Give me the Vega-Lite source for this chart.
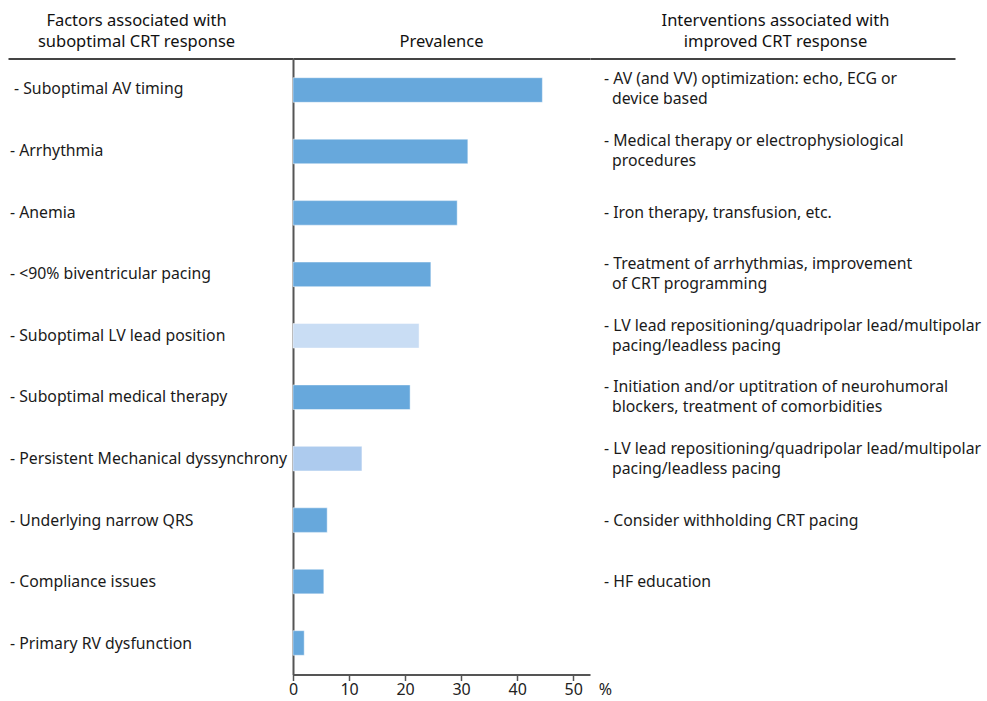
{
  "$schema": "https://vega.github.io/schema/vega-lite/v6.json",
  "background": "white",
  "padding": {"left": 8, "top": 12.5, "right": 5, "bottom": 0},
  "bounds": "flush",
  "spacing": 0,
  "config": {
    "font": "Noto Sans",
    "view": {"stroke": null},
    "title": {"fontSize": 16.5, "fontWeight": "normal", "color": "#111111", "baseline": "bottom", "offset": 8, "lineHeight": 21, "anchor": "middle", "frame": "group"},
    "text": {"color": "#1a1a1a"}
  },
  "data": {
    "values": [
      {"factor": "- Suboptimal AV timing", "prevalence": 44.5, "category": "standard", "intervention": "- AV (and VV) optimization: echo, ECG or", "continuation": "device based"},
      {"factor": "- Arrhythmia", "prevalence": 31.2, "category": "standard", "intervention": "- Medical therapy or electrophysiological", "continuation": "procedures"},
      {"factor": "- Anemia", "prevalence": 29.3, "category": "standard", "intervention": "- Iron therapy, transfusion, etc.", "continuation": ""},
      {"factor": "- <90% biventricular pacing", "prevalence": 24.6, "category": "standard", "intervention": "- Treatment of arrhythmias, improvement", "continuation": "of CRT programming"},
      {"factor": "- Suboptimal LV lead position", "prevalence": 22.5, "category": "lead", "intervention": "- LV lead repositioning/quadripolar lead/multipolar", "continuation": "pacing/leadless pacing"},
      {"factor": "- Suboptimal medical therapy", "prevalence": 20.9, "category": "standard", "intervention": "- Initiation and/or uptitration of neurohumoral", "continuation": "blockers, treatment of comorbidities"},
      {"factor": "- Persistent Mechanical dyssynchrony", "prevalence": 12.3, "category": "dyssynchrony", "intervention": "- LV lead repositioning/quadripolar lead/multipolar", "continuation": "pacing/leadless pacing"},
      {"factor": "- Underlying narrow QRS", "prevalence": 6.1, "category": "standard", "intervention": "- Consider withholding CRT pacing", "continuation": ""},
      {"factor": "- Compliance issues", "prevalence": 5.5, "category": "standard", "intervention": "- HF education", "continuation": ""},
      {"factor": "- Primary RV dysfunction", "prevalence": 2.0, "category": "standard", "intervention": "", "continuation": ""}
    ]
  },
  "hconcat": [
    {
      "width": 285,
      "height": 616,
      "title": {"text": ["Factors associated with", "suboptimal CRT response"], "dx": -14},
      "layer": [
        {
          "mark": {"type": "text", "align": "left", "baseline": "middle", "fontSize": 15.8, "dx": 2},
          "encoding": {
            "y": {"field": "factor", "type": "nominal", "sort": null, "axis": null,
                  "scale": {"paddingInner": 0.6, "paddingOuter": 0.313, "align": 0.5}},
            "x": {"datum": 0, "type": "quantitative", "scale": {"domain": [0, 1], "nice": false},
                  "axis": {"orient": "top", "labels": false, "ticks": false, "grid": false, "title": null, "domainColor": "#444444", "domainWidth": 2}},
            "text": {"field": "factor"},
            "opacity": {"condition": {"test": "datum.prevalence >= 44", "value": 0}, "value": 1}
          }
        },
        {
          "transform": [{"filter": "datum.prevalence >= 44"}],
          "mark": {"type": "text", "align": "left", "baseline": "middle", "fontSize": 15.8, "dx": 6},
          "encoding": {
            "y": {"field": "factor", "type": "nominal", "sort": null},
            "x": {"datum": 0, "type": "quantitative"},
            "text": {"field": "factor"}
          }
        }
      ]
    },
    {
      "width": 297,
      "height": 616,
      "title": "Prevalence",
      "layer": [
        {
          "mark": {"type": "bar", "stroke": "#ffffff", "strokeOpacity": 0.45, "strokeWidth": 1},
          "encoding": {
            "y": {"field": "factor", "type": "nominal", "sort": null,
                  "scale": {"paddingInner": 0.6, "paddingOuter": 0.313, "align": 0.5},
                  "axis": {"labels": false, "ticks": false, "grid": false, "title": null, "domainColor": "#555555", "domainWidth": 2}},
            "x": {"field": "prevalence", "type": "quantitative",
                  "scale": {"domain": [0, 53], "nice": false, "zero": true},
                  "axis": {"values": [0, 10, 20, 30, 40, 50], "grid": false, "domainColor": "#555555", "domainWidth": 2,
                           "tickColor": "#555555", "tickWidth": 1.5, "tickSize": 6, "labelPadding": 1,
                           "labelFontSize": 16, "labelColor": "#222222", "labelFlush": false,
                           "title": "%", "titleAngle": 0, "titleFontSize": 16, "titleFontWeight": "normal", "titleColor": "#222222",
                           "titleAlign": "center", "titleBaseline": "top", "titleX": 312, "titleY": 7}},
            "color": {"field": "category", "type": "nominal",
                      "scale": {"domain": ["standard", "lead", "dyssynchrony"], "range": ["#67a8dc", "#c9ddf4", "#adcbee"]},
                      "legend": null}
          }
        },
        {
          "mark": {"type": "bar", "opacity": 0},
          "encoding": {
            "y": {"field": "factor", "type": "nominal", "sort": null},
            "x": {"field": "prevalence", "type": "quantitative",
                  "axis": {"orient": "top", "labels": false, "ticks": false, "grid": false, "title": null, "domainColor": "#444444", "domainWidth": 2}}
          }
        }
      ],
      "resolve": {"axis": {"x": "independent"}}
    },
    {
      "width": 365,
      "height": 616,
      "title": {"text": ["Interventions associated with", "improved CRT response"], "dx": 3},
      "layer": [
        {
          "mark": {"type": "text", "align": "left", "baseline": "middle", "fontSize": 15.8, "dx": 14, "dy": -10},
          "encoding": {
            "y": {"field": "factor", "type": "nominal", "sort": null, "axis": null,
                  "scale": {"paddingInner": 0.6, "paddingOuter": 0.313, "align": 0.5}},
            "x": {"datum": 0, "type": "quantitative", "scale": {"domain": [0, 1], "nice": false},
                  "axis": {"orient": "top", "labels": false, "ticks": false, "grid": false, "title": null, "domainColor": "#444444", "domainWidth": 2}},
            "text": {"field": "intervention"},
            "opacity": {"condition": {"test": "datum.continuation == ''", "value": 0}, "value": 1}
          }
        },
        {
          "transform": [{"filter": "datum.continuation == ''"}],
          "mark": {"type": "text", "align": "left", "baseline": "middle", "fontSize": 15.8, "dx": 14},
          "encoding": {
            "y": {"field": "factor", "type": "nominal", "sort": null},
            "x": {"datum": 0, "type": "quantitative"},
            "text": {"field": "intervention"}
          }
        },
        {
          "transform": [{"filter": "datum.continuation != ''"}],
          "mark": {"type": "text", "align": "left", "baseline": "middle", "fontSize": 15.8, "dx": 22, "dy": 10},
          "encoding": {
            "y": {"field": "factor", "type": "nominal", "sort": null},
            "x": {"datum": 0, "type": "quantitative"},
            "text": {"field": "continuation"}
          }
        }
      ]
    }
  ]
}
